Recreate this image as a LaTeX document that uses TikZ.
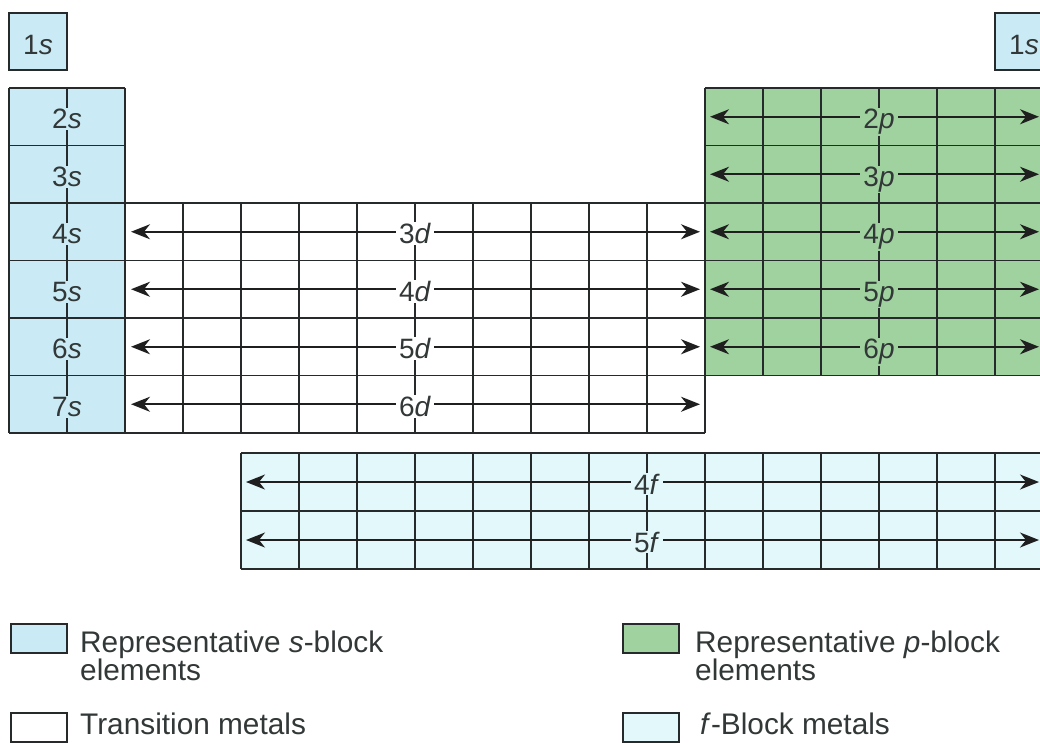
\documentclass[tikz,border=0pt]{standalone}
\usepackage{fontspec}
\setmainfont{Liberation Sans}
\usetikzlibrary{arrows.meta}
\definecolor{sblk}{RGB}{202,235,245}
\definecolor{pblk}{RGB}{160,210,160}
\definecolor{fblk}{RGB}{226,248,250}
\definecolor{linec}{RGB}{38,42,42}
\definecolor{txtc}{RGB}{50,55,55}
\tikzset{
  gl/.style={line width=1.9pt, draw=linec},
  arr/.style={line width=1.7pt, draw=black!88,
    {Stealth[length=19pt,width=15pt,inset=6pt]}-{Stealth[length=19pt,width=15pt,inset=6pt]}},
  lbl/.style={font=\fontsize{28}{28}\selectfont, text=txtc, inner xsep=3pt, inner ysep=1pt, anchor=base},
  legtext/.style={font=\fontsize{29.8}{29.8}\selectfont, text=txtc, inner sep=0pt, anchor=base west},
  swatch/.style={draw=linec, line width=1.8pt, minimum width=56pt, minimum height=29pt, inner sep=0pt, anchor=north west}
}
\begin{document}
\begin{tikzpicture}[x=1pt,y=-1pt]
\useasboundingbox (0,0) rectangle (1040,742);
\clip (0,0) rectangle (1040,742);
% fills
\fill[sblk] (9,13) rectangle (67,70);
\fill[sblk] (995,13) rectangle (1053,70);
\fill[sblk] (9,88) rectangle (125,433);
\fill[white] (125,203) rectangle (705,433);
\fill[pblk] (705,88) rectangle (1053,375.5);
\fill[fblk] (241,453) rectangle (1053,569);
% 1s boxes
\draw[gl] (9,13) rectangle (67,70);
\draw[gl] (995,13) rectangle (1053,70);
% s block grid
\foreach \y in {88,145.5,203,260.5,318,375.5,433} \draw[gl] (9,\y) -- (125,\y);
\foreach \x in {9,67,125} \draw[gl] (\x,88) -- (\x,433);
% transition grid
\foreach \y in {203,260.5,318,375.5,433} \draw[gl] (125,\y) -- (705,\y);
\foreach \i in {0,...,10} \draw[gl] ({125+58*\i},203) -- ({125+58*\i},433);
% p block grid
\foreach \y in {88,145.5,203,260.5,318,375.5} \draw[gl] (705,\y) -- (1053,\y);
\foreach \i in {0,...,6} \draw[gl] ({705+58*\i},88) -- ({705+58*\i},375.5);
% f block grid
\foreach \y in {453,511,569} \draw[gl] (241,\y) -- (1053,\y);
\foreach \i in {0,...,14} \draw[gl] ({241+58*\i},453) -- ({241+58*\i},569);
% s labels
\node[lbl, fill=sblk] (s1a) at (38,54) {1\textit{s}};
\node[lbl, fill=sblk] (s1b) at (1024,54) {1\textit{s}};
\foreach \n/\y in {2/116.75,3/174.25,4/231.75,5/289.25,6/346.75,7/404.25}
  \node[lbl, fill=sblk] (s\n) at (67,\y+12) {\n\textit{s}};
% d rows
\foreach \n/\y in {3/231.75,4/289.25,5/346.75,6/404.25}{
  \coordinate (d\n L) at (131,\y);
  \coordinate (d\n R) at (700,\y);
  \draw[arr] (d\n L) -- (d\n R);
  \node[lbl, fill=white] (d\n) at (415,\y+12) {\n\textit{d}};
}
% p rows
\foreach \n/\y in {2/116.75,3/174.25,4/231.75,5/289.25,6/346.75}{
  \coordinate (p\n L) at (710,\y);
  \coordinate (p\n R) at (1039,\y);
  \draw[arr] (p\n L) -- (p\n R);
  \node[lbl, fill=pblk] (p\n) at (879,\y+12) {\n\textit{p}};
}
% f rows
\foreach \n/\y in {4/482,5/540}{
  \coordinate (f\n L) at (246,\y);
  \coordinate (f\n R) at (1039,\y);
  \draw[arr] (f\n L) -- (f\n R);
  \node[lbl, fill=fblk] (f\n) at (647,\y+12) {\n\textit{f}};
}
% legend
\node[swatch, fill=sblk] (ls) at (10,623) {};
\node[legtext] (lst1) at (80,652) {Representative \textit{s}-block};
\node[legtext] (lst2) at (80,680) {elements};
\node[swatch, fill=white] (lt) at (10,712) {};
\node[legtext] (ltt) at (80,734) {Transition metals};
\node[swatch, fill=pblk] (lp) at (622,623) {};
\node[legtext] (lpt1) at (695,652) {Representative \textit{p}-block};
\node[legtext] (lpt2) at (695,680) {elements};
\node[swatch, fill=fblk] (lf) at (622,712) {};
\node[legtext] (lft) at (700,734) {\textit{f}-Block metals};
\end{tikzpicture}
\end{document}
